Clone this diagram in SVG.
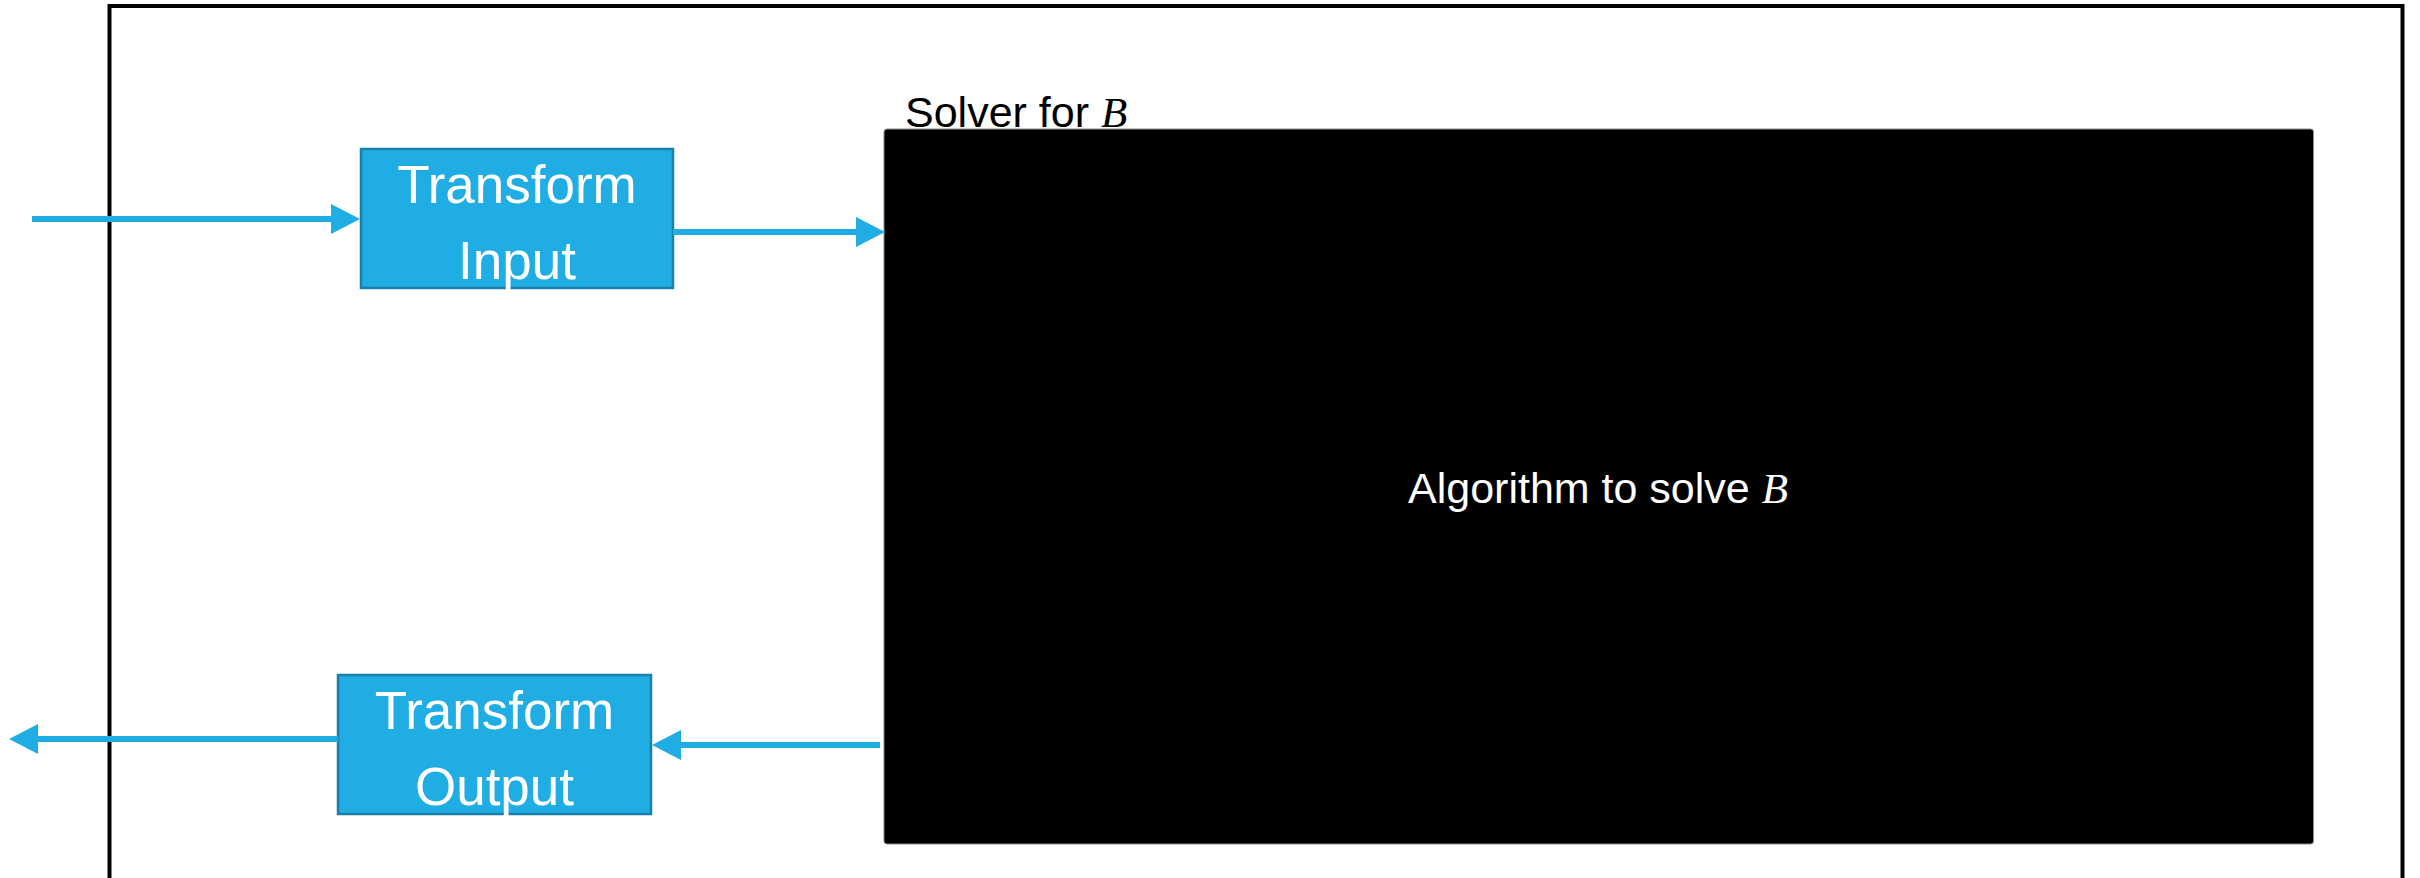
<svg xmlns="http://www.w3.org/2000/svg" width="2420" height="878" viewBox="0 0 2420 878">
  <defs>
    <style>
      .frame { fill: none; stroke: #000000; stroke-width: 4; }
      .solver { fill: #000000; stroke: #8a8a8a; stroke-width: 1; }
      .box { fill: #1FADE3; stroke: #1A7FA9; stroke-width: 2.5; }
      .conn { stroke: #1FADE3; stroke-width: 6; fill: none; }
      .boxtext { font-family: "Liberation Sans", Arial, sans-serif; font-size: 53px; fill: #ffffff; text-anchor: middle; }
      .label { font-family: "Liberation Sans", Arial, sans-serif; font-size: 43px; fill: #000000; }
      .algo { font-family: "Liberation Sans", Arial, sans-serif; font-size: 43px; fill: #ffffff; text-anchor: middle; }
      .math { font-family: "Liberation Serif", "Times New Roman", serif; font-style: italic; }
    </style>
    <marker id="head" markerUnits="userSpaceOnUse" markerWidth="30" markerHeight="30" refX="0" refY="15" orient="auto" viewBox="0 0 30 30">
      <path d="M0,0 L29,15 L0,30 Z" fill="#1FADE3"/>
    </marker>
  </defs>

  <rect width="2420" height="878" fill="#ffffff"/>

  <g id="outer-frame">
    <rect class="frame" x="109.5" y="6" width="2293" height="920"/>
  </g>

  <g id="solver">
    <text class="label" x="905" y="127">Solver for <tspan class="math">B</tspan></text>
    <rect class="solver" x="884" y="129" width="1429.5" height="715" rx="3"/>
    <text class="algo" x="1598" y="503">Algorithm to solve <tspan class="math">B</tspan></text>
  </g>

  <g id="transform-input">
    <rect class="box" x="361" y="149" width="312" height="139"/>
    <text class="boxtext" x="517" y="203">Transform</text>
    <text class="boxtext" x="517" y="279">Input</text>
  </g>

  <g id="transform-output">
    <rect class="box" x="338" y="675" width="313" height="139"/>
    <text class="boxtext" x="494.5" y="729">Transform</text>
    <text class="boxtext" x="494.5" y="805">Output</text>
  </g>

  <g id="connectors">
    <line class="conn" x1="32" y1="219" x2="331" y2="219" marker-end="url(#head)"/>
    <line class="conn" x1="673" y1="232" x2="856" y2="232" marker-end="url(#head)"/>
    <line class="conn" x1="880" y1="745" x2="681" y2="745" marker-end="url(#head)"/>
    <line class="conn" x1="338" y1="739" x2="38" y2="739" marker-end="url(#head)"/>
  </g>
</svg>
